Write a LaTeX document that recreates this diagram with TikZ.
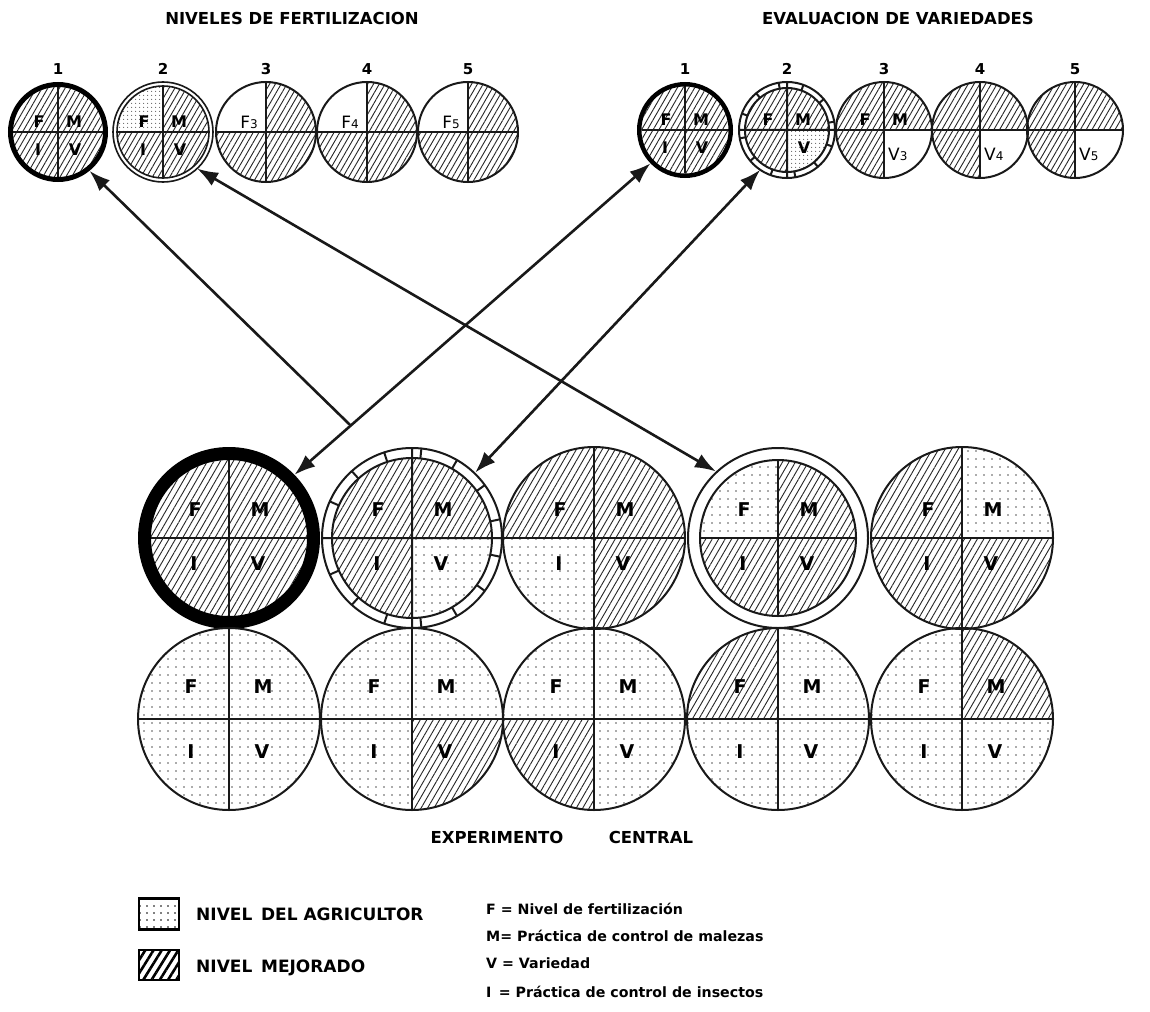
\documentclass[tikz,border=0pt]{standalone}
\usepackage{fontspec}
\setmainfont{DejaVu Sans}
\usetikzlibrary{patterns.meta,arrows.meta,calc}

% quadrant fills of one disc: x, y, radius, then the fills of F, M, I, V
\newcommand\quads[7]{%
  \begin{scope}
    \clip (#1,#2) circle[radius=#3];
    \fill[#4] (#1,#2) rectangle ++(-#3,-#3);
    \fill[#5] (#1,#2) rectangle ++(#3,-#3);
    \fill[#6] (#1,#2) rectangle ++(-#3,#3);
    \fill[#7] (#1,#2) rectangle ++(#3,#3);
  \end{scope}
  \draw[rim] (#1-#3,#2) -- (#1+#3,#2) (#1,#2-#3) -- (#1,#2+#3);
}
% a letter placed relative to a disc centre
\newcommand\qlab[5]{\node[#1] (#2-#5) at ($(#2)+(#3,#4)$) {#5};}

\tikzset{
  hatchB/.style={pattern={Lines[angle=60,distance=5.6pt,line width=0.9pt]},pattern color=black!85},
  dotsB/.style={pattern={Dots[distance=8pt,radius=0.85pt]},pattern color=black!65},
  hatchS/.style={pattern={Lines[angle=60,distance=5pt,line width=0.9pt]},pattern color=black!85},
  dotsS/.style={pattern={Dots[distance=4pt,radius=0.7pt]},pattern color=black!60},
  blank/.style={fill=white},
  rim/.style={line width=2pt,draw=black!90},
  hub/.style={circle,inner sep=0pt,outer sep=0pt,draw=none},
  link/.style={line width=2.6pt,draw=black!90},
  >={Latex[length=21pt,width=15pt]},
  ttl/.style={font=\fontsize{16.5}{17}\selectfont\bfseries,inner sep=0pt,anchor=base},
  num/.style={font=\fontsize{15}{15}\selectfont\bfseries,inner sep=0pt,anchor=base},
  lbB/.style={font=\fontsize{19}{19}\selectfont\bfseries,inner sep=0pt},
  lbS/.style={font=\fontsize{16}{16}\selectfont\bfseries,inner sep=0pt},
  subl/.style={font=\fontsize{17}{17}\selectfont,inner sep=0pt},
  leg/.style={font=\fontsize{17}{17}\selectfont\bfseries,anchor=base west,inner sep=0pt},
  key/.style={font=\fontsize{14.2}{14}\selectfont\bfseries,anchor=base west,inner sep=0pt},
}

\begin{document}
\begin{tikzpicture}[x=1pt,y=-1pt]
\useasboundingbox (0,0) rectangle (1150,1011);
\fill[white] (0,0) rectangle (1150,1011);

% ---------------- titles
\node[ttl] (tA) at (292,25) {NIVELES DE FERTILIZACION};
\node[ttl] (tB) at (898,25) {EVALUACION DE VARIEDADES};

% ---------------- fertilisation levels
\foreach \i/\x in {1/58,2/163,3/266,4/367,5/468}
  \node[num] (nl\i) at (\x,75) {\i};
\quads{58}{132}{45}{hatchS}{hatchS}{hatchS}{hatchS}
\draw[line width=5pt] (58,132) circle[radius=47.5];
\quads{163}{132}{46}{dotsS}{hatchS}{hatchS}{hatchS}
\draw[rim,line width=1.6pt] (163,132) circle[radius=46] (163,132) circle[radius=50];
\foreach \x in {266,367,468}{
  \quads{\x}{132}{50}{blank}{hatchS}{hatchS}{hatchS}
  \draw[rim] (\x,132) circle[radius=50];
}
\node[hub,minimum size=100pt] (tl1) at (58,132) {};
\node[hub,minimum size=100pt] (tl2) at (163,132) {};
\node[hub,minimum size=100pt] (tl3) at (266,132) {};
\node[hub,minimum size=100pt] (tl4) at (367,132) {};
\node[hub,minimum size=100pt] (tl5) at (468,132) {};
\foreach \n in {tl1,tl2}{
  \qlab{lbS}{\n}{-19}{-10}{F}
  \qlab{lbS}{\n}{16}{-10}{M}
  \qlab{lbS}{\n}{-20}{18}{I}
  \qlab{lbS}{\n}{17}{18}{V}
}
\node[subl,anchor=east] (tl3-F) at ($(tl3)+(-8,-10)$) {F{\fontsize{12}{12}\selectfont 3}};
\node[subl,anchor=east] (tl4-F) at ($(tl4)+(-8,-10)$) {F{\fontsize{12}{12}\selectfont 4}};
\node[subl,anchor=east] (tl5-F) at ($(tl5)+(-8,-10)$) {F{\fontsize{12}{12}\selectfont 5}};

% ---------------- variety evaluation
\foreach \i/\x in {1/685,2/787,3/884,4/980,5/1075}
  \node[num] (nr\i) at (\x,75) {\i};
\quads{685}{130}{43.5}{hatchS}{hatchS}{hatchS}{hatchS}
\draw[line width=4.5pt] (685,130) circle[radius=45.75];
\quads{787}{130}{42}{hatchS}{hatchS}{hatchS}{dotsS}
\draw[rim] (787,130) circle[radius=42] (787,130) circle[radius=48]
  (739,130) -- (835,130) (787,82) -- (787,178);
\foreach \a in {20,50,...,350}
  \draw[rim] ($(787,130)+(\a:42)$) -- ($(787,130)+(\a:48)$);
\foreach \x in {884,980,1075}{
  \quads{\x}{130}{48}{hatchS}{hatchS}{hatchS}{blank}
  \draw[rim] (\x,130) circle[radius=48];
}
\node[hub,minimum size=96pt] (tr1) at (685,130) {};
\node[hub,minimum size=96pt] (tr2) at (787,130) {};
\node[hub,minimum size=96pt] (tr3) at (884,130) {};
\node[hub,minimum size=96pt] (tr4) at (980,130) {};
\node[hub,minimum size=96pt] (tr5) at (1075,130) {};
\qlab{lbS}{tr1}{-19}{-10}{F}
\qlab{lbS}{tr1}{16}{-10}{M}
\qlab{lbS}{tr1}{-20}{18}{I}
\qlab{lbS}{tr1}{17}{18}{V}
\qlab{lbS}{tr2}{-19}{-10}{F}
\qlab{lbS}{tr2}{16}{-10}{M}
\qlab{lbS}{tr2}{17}{18}{V}
\qlab{lbS}{tr3}{-19}{-10}{F}
\qlab{lbS}{tr3}{16}{-10}{M}
\node[subl,anchor=west] (tr3-V) at ($(tr3)+(4,24)$) {V{\fontsize{12}{12}\selectfont 3}};
\node[subl,anchor=west] (tr4-V) at ($(tr4)+(4,24)$) {V{\fontsize{12}{12}\selectfont 4}};
\node[subl,anchor=west] (tr5-V) at ($(tr5)+(4,24)$) {V{\fontsize{12}{12}\selectfont 5}};

% ---------------- central experiment, first row
\quads{229}{538}{78}{hatchB}{hatchB}{hatchB}{hatchB}
\draw[line width=13pt] (229,538) circle[radius=84.5];
\quads{412}{538}{80}{hatchB}{hatchB}{hatchB}{dotsB}
\draw[rim] (412,538) circle[radius=80] (412,538) circle[radius=90]
  (322,538) -- (502,538) (412,448) -- (412,628);
\foreach \a in {12,36,...,350}
  \draw[rim] ($(412,538)+(\a:80)$) -- ($(412,538)+(\a:90)$);
\quads{594}{538}{91}{hatchB}{hatchB}{dotsB}{hatchB}
\draw[rim] (594,538) circle[radius=91];
\quads{778}{538}{78}{dotsB}{hatchB}{hatchB}{hatchB}
\draw[rim] (778,538) circle[radius=78] (778,538) circle[radius=90];
\quads{962}{538}{91}{hatchB}{dotsB}{hatchB}{hatchB}
\draw[rim] (962,538) circle[radius=91];

% ---------------- central experiment, second row
\quads{229}{719}{91}{dotsB}{dotsB}{dotsB}{dotsB}
\quads{412}{719}{91}{dotsB}{dotsB}{dotsB}{hatchB}
\quads{594}{719}{91}{dotsB}{dotsB}{hatchB}{dotsB}
\quads{778}{719}{91}{hatchB}{dotsB}{dotsB}{dotsB}
\quads{962}{719}{91}{dotsB}{hatchB}{dotsB}{dotsB}
\foreach \x in {229,412,594,778,962}
  \draw[rim] (\x,719) circle[radius=91];

\foreach \c/\x in {1/229,2/412,3/594,4/778,5/962}{
  \node[hub,minimum size=182pt] (bc\c) at (\x,538) {};
  \node[hub,minimum size=182pt] (bd\c) at (\x,719) {};
}
\foreach \c in {1,...,5}{
  \qlab{lbB}{bc\c}{-34}{-28}{F}
  \qlab{lbB}{bc\c}{31}{-28}{M}
  \qlab{lbB}{bc\c}{-35}{26}{I}
  \qlab{lbB}{bc\c}{29}{26}{V}
  \qlab{lbB}{bd\c}{-38}{-32}{F}
  \qlab{lbB}{bd\c}{34}{-32}{M}
  \qlab{lbB}{bd\c}{-38}{33}{I}
  \qlab{lbB}{bd\c}{33}{33}{V}
}

\node[ttl] (tC) at (497,843) {EXPERIMENTO};
\node[ttl] (tD) at (651,843) {CENTRAL};

% ---------------- connectors
\draw[link,<->] (tr1.-136) -- (bc1.44);
\coordinate (J) at ($(bc1.44)!0.158!(tr1.-136)$);
\draw[link,->] (J) -- (tl1.-51);
\draw[link,<->] (tr2.-124) -- (bc2.46);
\draw[link,<->] (tl2.-47) -- (bc4.133);

% ---------------- legend
\node[draw,line width=2.2pt,pattern={Dots[distance=7pt,radius=0.9pt]},
  minimum width=40pt,minimum height=31pt,inner sep=0pt] (kd) at (159,914) {};
\node[draw,line width=2.2pt,pattern={Lines[angle=58,distance=7pt,line width=2.6pt]},
  minimum width=40pt,minimum height=30pt,inner sep=0pt] (kh) at (159,965) {};
\node[leg] (kdt) at (196,920) {NIVEL\, DEL AGRICULTOR};
\node[leg] (kht) at (196,972) {NIVEL\, MEJORADO};

\node[key] (kF) at (486,914) {F = Nivel de fertilización};
\node[key] (kM) at (486,941) {M= Práctica de control de malezas};
\node[key] (kV) at (486,968) {V = Variedad};
\node[key] (kI) at (486,997) {I\, = Práctica de control de insectos};
\end{tikzpicture}
\end{document}
